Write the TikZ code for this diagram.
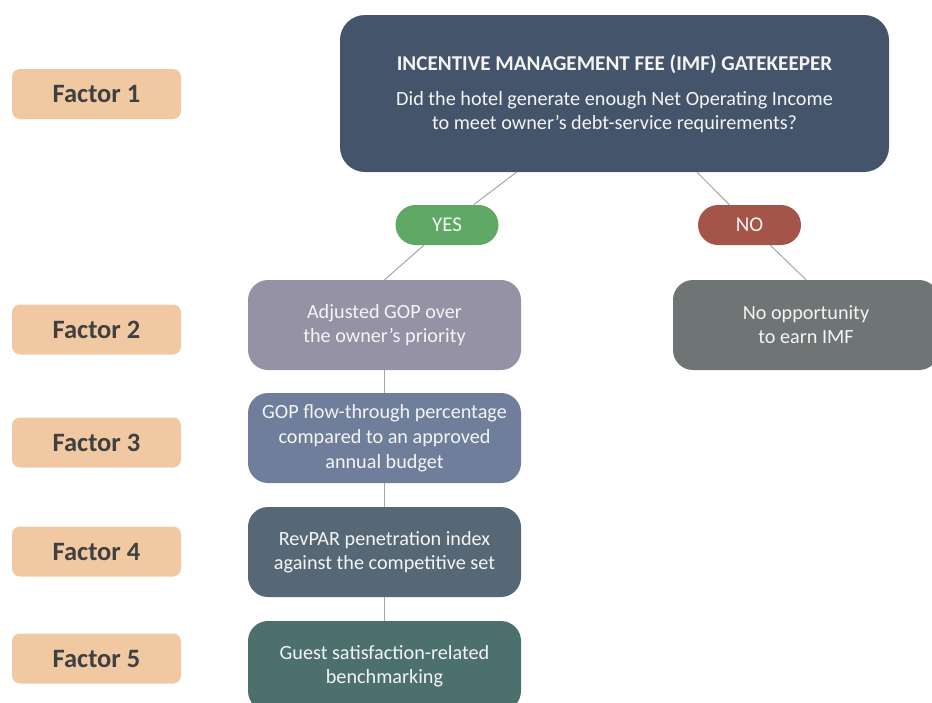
\documentclass[tikz,border=0pt]{standalone}
\usepackage{fontspec}
\setmainfont{Carlito}
\usetikzlibrary{positioning}

\definecolor{gatecol}{HTML}{44546A}
\definecolor{yescol}{HTML}{5FA866}
\definecolor{nocol}{HTML}{A5544A}
\definecolor{adjcol}{HTML}{9692A6}
\definecolor{noopcol}{HTML}{6F7475}
\definecolor{gopcol}{HTML}{6F7F9B}
\definecolor{revcol}{HTML}{566876}
\definecolor{guestcol}{HTML}{4B706E}
\definecolor{factorcol}{HTML}{F0C9A3}
\definecolor{linkcol}{HTML}{A6A6A6}
\definecolor{boxtext}{HTML}{F4F4F4}

\begin{document}
\begin{tikzpicture}[x=1pt,y=-1pt,
  factor/.style={fill=factorcol, rounded corners=8pt, minimum width=169pt, minimum height=50pt,
    text=black!75, font=\fontsize{26.5}{30}\selectfont\bfseries},
  stepbox/.style={rounded corners=20pt, minimum width=273pt, minimum height=90pt, inner sep=0pt,
    text=boxtext, align=center, font=\fontsize{20.2}{24}\selectfont},
  pill/.style={rounded corners=20pt, minimum width=103pt, minimum height=40pt, inner sep=0pt,
    text=boxtext, font=\fontsize{21}{24}\selectfont},
  link/.style={draw=linkcol, line width=1pt}]
\useasboundingbox (0,0) rectangle (932,702);

\node[factor] (f1) at (96.5,94) {Factor 1};
\node[factor] (f2) at (96.5,329.5) {Factor 2};
\node[factor] (f3) at (96.5,442.5) {Factor 3};
\node[factor] (f4) at (96.5,551.5) {Factor 4};
\node[factor] (f5) at (96.5,658.5) {Factor 5};

\node[stepbox, fill=gatecol, rounded corners=25pt, minimum width=549pt, minimum height=157pt,
  font=\fontsize{20.2}{24}\selectfont] (gate) at (614.5,93.5)
  {{\fontsize{21.1}{24}\selectfont\bfseries INCENTIVE MANAGEMENT FEE (IMF) GATEKEEPER}\\[11pt]
   Did the hotel generate enough Net Operating Income\\
   to meet owner{\char"27}s debt-service requirements?};

\node[pill, fill=yescol] (yes) at (447,225) {YES};
\node[pill, fill=nocol] (no) at (749.5,225) {NO};

\node[stepbox, fill=adjcol] (adj) at (384.5,325) {Adjusted GOP over\\the owner’s priority};
\node[stepbox, fill=noopcol, minimum width=266pt] (noop) at (806,325) {No opportunity\\to earn IMF};
\node[stepbox, fill=gopcol, font=\fontsize{20.2}{25}\selectfont] (gop) at (384.5,438)
  {GOP flow-through percentage\\compared to an approved\\annual budget};
\node[stepbox, fill=revcol] (rev) at (384.5,552) {RevPAR penetration index\\against the competitive set};
\node[stepbox, fill=guestcol] (guest) at (384.5,666) {Guest satisfaction-related\\benchmarking};

% connectors
\coordinate (gyes) at ([xshift=-98pt]gate.south);
\coordinate (gno) at ([xshift=82.5pt]gate.south);
\draw[link] (gyes) -- (yes) -- (adj.north);
\draw[link] (gno) -- (no) -- (noop.north);
\draw[link] (adj) -- (gop);
\draw[link] (gop) -- (rev);
\draw[link] (rev) -- (guest);
\end{tikzpicture}
\end{document}
